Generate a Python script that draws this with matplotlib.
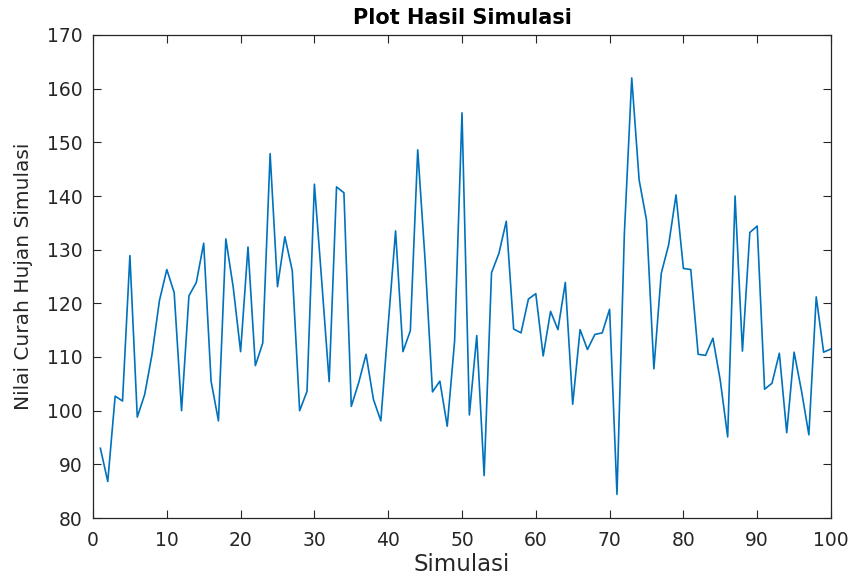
import matplotlib
matplotlib.use("Agg")
import matplotlib.pyplot as plt
import numpy as np

# data
simulasi = np.arange(1, 101)
curah_hujan = [
    93.0, 86.8, 102.7, 101.8, 128.9, 98.8, 103.0, 110.5, 120.5, 126.3,
    122.0, 100.0, 121.4, 123.9, 131.2, 105.5, 98.1, 132.0, 123.0, 111.0,
    130.5, 108.4, 112.6, 147.9, 123.1, 132.4, 126.1, 100.0, 103.6, 142.2,
    124.0, 105.4, 141.7, 140.6, 100.8, 105.2, 110.5, 102.1, 98.1, 116.0,
    133.5, 111.0, 114.9, 148.6, 128.0, 103.5, 105.5, 97.1, 113.0, 155.5,
    99.2, 114.0, 87.9, 125.7, 129.3, 135.3, 115.2, 114.5, 120.8, 121.8,
    110.2, 118.5, 115.1, 123.9, 101.2, 115.1, 111.4, 114.2, 114.5, 118.9,
    84.4, 133.0, 162.0, 143.0, 135.5, 107.8, 125.6, 130.9, 140.2, 126.5,
    126.3, 110.5, 110.3, 113.5, 105.6, 95.1, 140.0, 111.1, 133.2, 134.4,
    104.0, 105.1, 110.7, 95.9, 110.9, 103.7, 95.5, 121.2, 110.9, 111.5,
]
xticks = np.arange(0, 101, 10)
yticks = np.arange(80, 171, 10)

plt.rcParams['font.family'] = ['DejaVu Sans']

fig = plt.figure(figsize=(8.51, 5.77), dpi=100)
# axes box: x 93..831 px, y 35..518 px
ax = fig.add_axes([93/851, 1-518/577, 738/851, 483/577])
ax.plot(simulasi, curah_hujan, color='#0072BD', linewidth=1.2)

ax.set_xlim(0, 100)
ax.set_ylim(80, 170)
ax.set_xticks(xticks)
ax.set_yticks(yticks)
ax.tick_params(direction='in', top=True, right=True, length=6, width=0.8,
               labelsize=13.5, colors='#262626')
ax.tick_params(axis='x', pad=9)
ax.tick_params(axis='y', pad=7.5)
for s in ax.spines.values():
    s.set_color('#262626')
    s.set_linewidth(0.9)

ax.set_title('Plot Hasil Simulasi', fontsize=15, fontweight='bold', pad=8)
ax.set_xlabel('Simulasi', fontsize=16.5, color='#262626')
ax.xaxis.set_label_coords(0.5, -0.072)
ax.set_ylabel('Nilai Curah Hujan Simulasi', fontsize=14.5, color='#262626')
ax.yaxis.set_label_coords(-0.081, 0.5)

fig.savefig('out.png', dpi=100)
